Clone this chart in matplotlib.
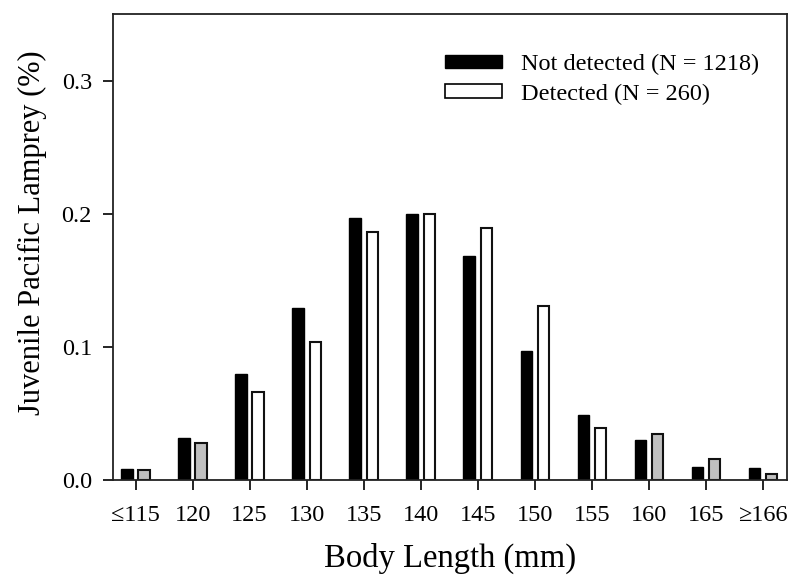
import numpy as np
from matplotlib import pyplot as plt

# body length bins and proportion of fish in each
length_bins = ["\u2264115", "120", "125", "130", "135", "140", "145",
               "150", "155", "160", "165", "\u2265166"]
not_detected = [0.0083, 0.0316, 0.080, 0.129, 0.197, 0.200, 0.168,
                0.097, 0.049, 0.030, 0.0098, 0.009]
detected = [0.008, 0.0278, 0.066, 0.104, 0.186, 0.200, 0.189,
            0.131, 0.039, 0.035, 0.016, 0.0045]
# detected bars drawn grey in these bins, white elsewhere
detected_grey = [True, True, False, False, False, False, False,
                 False, False, True, True, True]


def main():
    plt.rcParams["font.family"] = ["Liberation Serif", "DejaVu Serif"]

    fig = plt.figure(figsize=(7.94, 5.8), dpi=100)
    ax = fig.add_axes([0.142, 0.172, 0.849, 0.804])

    x = np.arange(len(length_bins))
    width = 0.2
    offset = 0.15
    det_colors = ["#c0c0c0" if g else "white" for g in detected_grey]

    ax.bar(x - offset, not_detected, width, color="black", edgecolor="black",
           linewidth=1.0, label="Not detected (N = 1218)")
    ax.bar(x + offset, detected, width, color=det_colors, edgecolor="#111111",
           linewidth=1.5)
    # legend proxy for detected (white)
    ax.bar([0], [0], 0, color="white", edgecolor="black", linewidth=1.2,
           label="Detected (N = 260)")

    ax.set_xlim(-0.4, 11.42)
    ax.set_ylim(0, 0.35)
    ax.set_xticks(x)
    ax.set_xticklabels(length_bins)
    ax.set_yticks([0.0, 0.1, 0.2, 0.3])
    ax.set_yticklabels(["0.0", "0.1", "0.2", "0.3"])
    ax.tick_params(axis="both", direction="out", length=7, width=1.2,
                   labelsize=17.5)
    ax.tick_params(axis="x", pad=11)
    ax.tick_params(axis="y", pad=8)
    ax.tick_params(top=False, right=False)
    for s in ax.spines.values():
        s.set_linewidth(1.3)
        s.set_color("#222222")

    ax.set_xlabel("Body Length (mm)", fontsize=23.5, labelpad=12)
    ax.set_ylabel("Juvenile Pacific Lamprey (%)", fontsize=22)
    ax.yaxis.set_label_coords(-0.097, 0.53)

    ax.legend(loc="upper right", bbox_to_anchor=(0.973, 0.935),
              borderaxespad=0, frameon=False,
              fontsize=17.5, handlelength=2.35, handleheight=0.5,
              handletextpad=0.78, labelspacing=0.35)

    fig.savefig("out.png", dpi=100)
    plt.close(fig)


if __name__ == "__main__":
    main()
